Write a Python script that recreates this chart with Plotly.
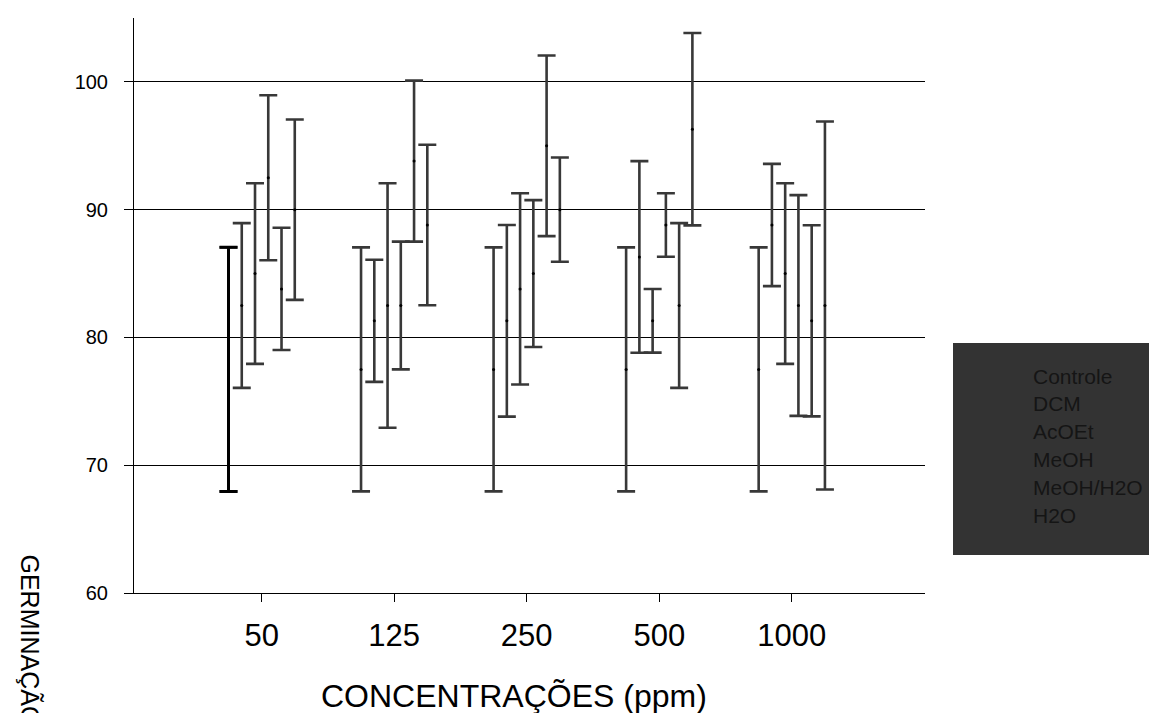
import plotly.graph_objects as go

categories = ["50", "125", "250", "500", "1000"]
series_names = ["Controle", "DCM", "AcOEt", "MeOH", "MeOH/H2O", "H2O"]

controle_mean = [77.5, 77.5, 77.5, 77.5, 77.5]
controle_err = [9.55, 9.55, 9.55, 9.55, 9.55]
dcm_mean = [82.5, 81.3, 81.3, 86.3, 88.8]
dcm_err = [6.45, 4.78, 7.5, 7.5, 4.78]
acoet_mean = [85.0, 82.5, 83.8, 81.3, 85.0]
acoet_err = [7.07, 9.57, 7.48, 2.49, 7.07]
meoh_mean = [92.5, 82.5, 85.0, 88.8, 82.5]
meoh_err = [6.46, 5.0, 5.75, 2.49, 8.64]
meohh2o_mean = [83.8, 93.8, 95.0, 82.5, 81.3]
meohh2o_err = [4.78, 6.3, 7.07, 6.45, 7.48]
h2o_mean = [90.0, 88.8, 90.0, 96.3, 82.5]
h2o_err = [7.06, 6.28, 4.08, 7.53, 14.4]

means = [controle_mean, dcm_mean, acoet_mean, meoh_mean, meohh2o_mean, h2o_mean]
errs = [controle_err, dcm_err, acoet_err, meoh_err, meohh2o_err, h2o_err]
offsets = [-0.25, -0.15, -0.05, 0.05, 0.15, 0.25]

FONT = "Liberation Sans, Arial, sans-serif"
L, R, T, B = 134, 224, 18, 120
W, H = 1149, 713
pw, ph = W - L - R, H - T - B

def px_x(p):
    return (p - L) / pw

def px_y(p):
    return (H - B - p) / ph

fig = go.Figure()
base = list(range(1, len(categories) + 1))

for name, m, e, off in zip(series_names, means, errs, offsets):
    fig.add_trace(go.Scatter(
        x=[b + off for b in base], y=m, mode="markers", name=name,
        marker=dict(size=3, color="black"),
        error_y=dict(type="data", array=e, color="#383838", thickness=2.6, width=9),
        showlegend=False,
    ))

# first Controle bar drawn darker (as in the original)
fig.add_trace(go.Scatter(
    x=[base[0] + offsets[0]], y=[controle_mean[0]], mode="markers",
    marker=dict(size=3, color="black"),
    error_y=dict(type="data", array=[controle_err[0]], color="black", thickness=3, width=9),
    showlegend=False,
))

# legend box (drawn as shape + text, no symbols as in the original)
fig.add_shape(type="rect", xref="paper", yref="paper",
              x0=px_x(953), x1=px_x(1160), y0=px_y(555), y1=px_y(343),
              fillcolor="#333333", line=dict(width=0), layer="below")
for i, name in enumerate(series_names):
    fig.add_annotation(text=name, xref="paper", yref="paper",
                       x=px_x(1031), y=px_y(376 + i * 27.8),
                       xanchor="left", yanchor="middle", showarrow=False,
                       font=dict(family=FONT, size=21, color="#151515"))

fig.add_annotation(text="CONCENTRAÇÕES (ppm)", xref="paper", yref="paper",
                   x=px_x(514), y=px_y(696), xanchor="center", yanchor="middle",
                   showarrow=False, font=dict(family=FONT, size=32, color="black"))
fig.add_annotation(text="GERMINAÇÃO", xref="paper", yref="paper",
                   x=px_x(30), y=px_y(552), xanchor="center", yanchor="top",
                   textangle=90, showarrow=False,
                   font=dict(family=FONT, size=25, color="black"))

fig.update_layout(
    width=W, height=H,
    margin=dict(l=L, r=R, t=T, b=B),
    paper_bgcolor="white", plot_bgcolor="white",
    font=dict(family=FONT, color="black"),
    showlegend=False,
)
fig.update_xaxes(
    range=[0.037, 6.005], tickmode="array", tickvals=base, ticktext=categories,
    showgrid=False, zeroline=False, showline=True, linecolor="black", linewidth=1,
    ticks="outside", ticklen=8, tickcolor="black", tickwidth=1,
    tickfont=dict(family=FONT, size=31, color="black"), ticklabelstandoff=7,
)
fig.update_yaxes(
    range=[60, 105], tickmode="array", tickvals=[60, 70, 80, 90, 100],
    showgrid=True, gridcolor="black", gridwidth=1, zeroline=False,
    showline=True, linecolor="black", linewidth=1,
    ticks="outside", ticklen=9, tickcolor="black", tickwidth=1,
    tickfont=dict(family=FONT, size=20, color="black"), ticklabelstandoff=12,
)

fig.write_html("out.html")
